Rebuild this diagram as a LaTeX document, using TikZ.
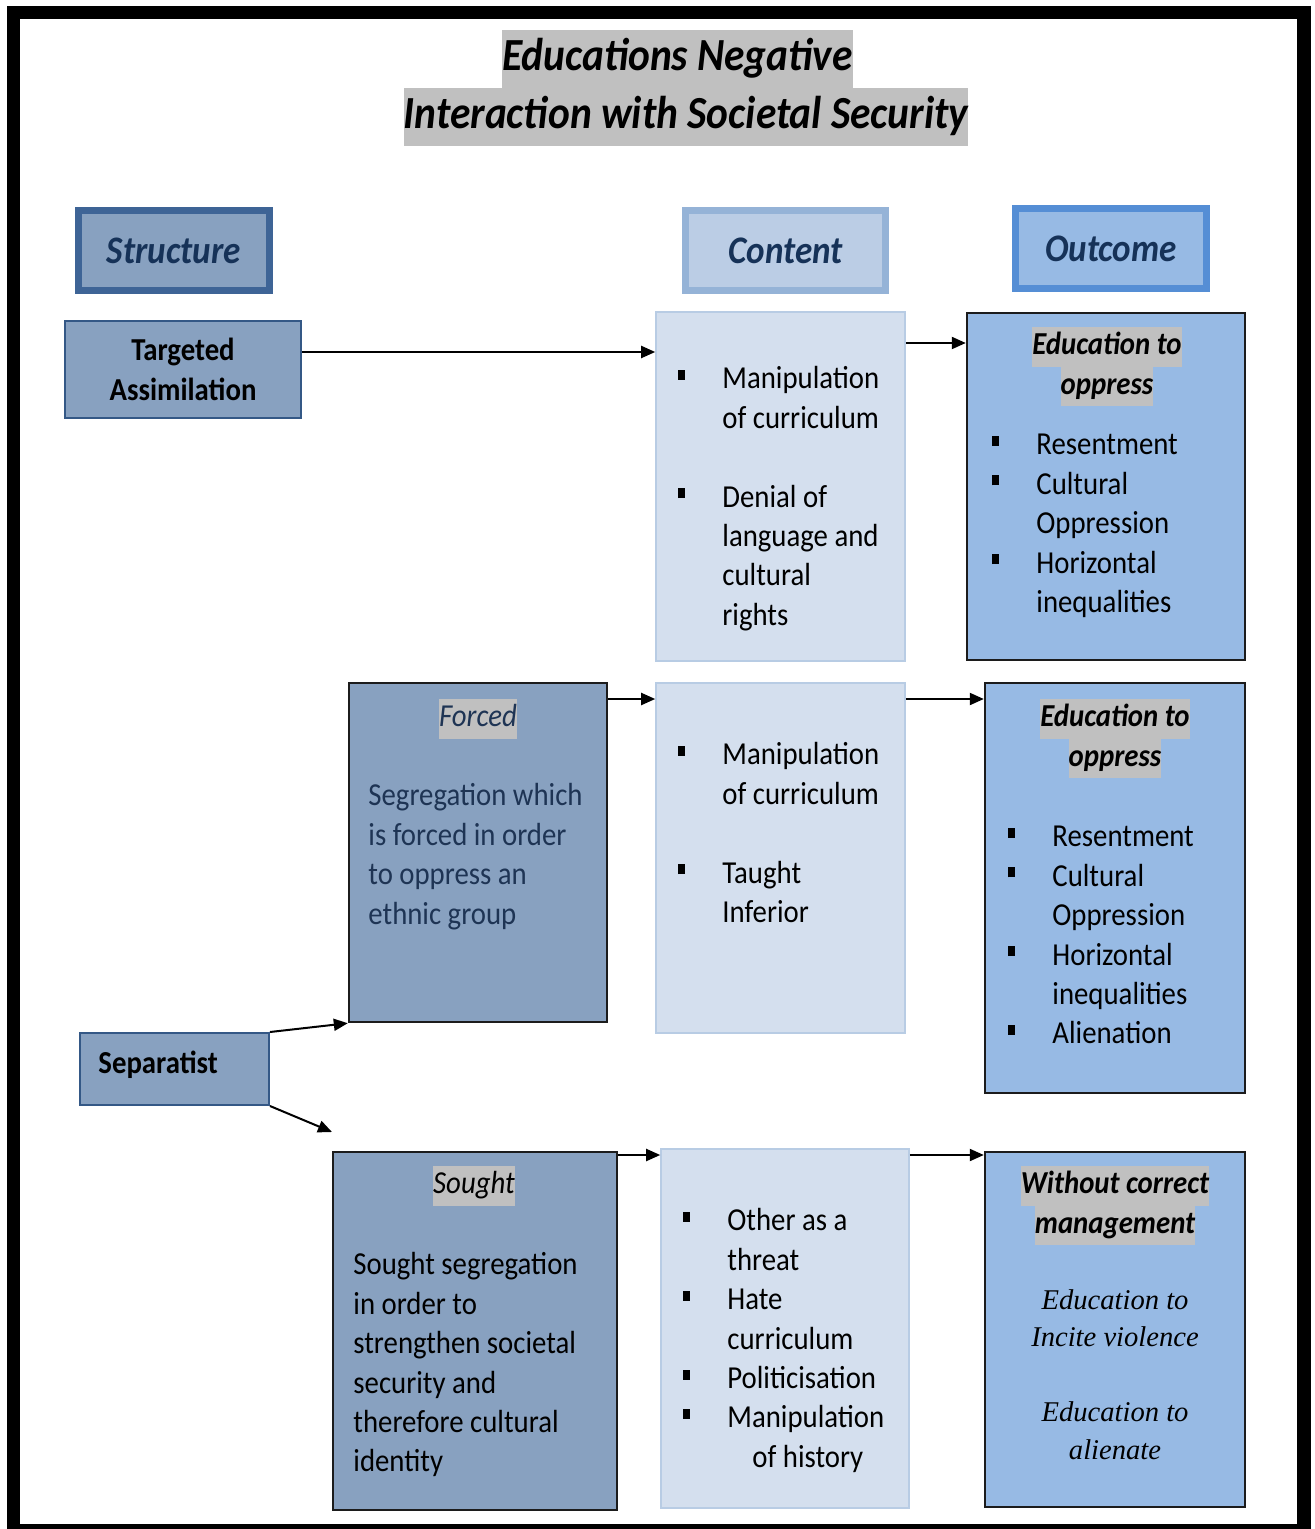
\documentclass[tikz,border=0pt]{standalone}
\usepackage{fontspec}
\setmainfont{Carlito}[FakeStretch=0.9]
\newfontfamily\serifit{Liberation Serif}
\usetikzlibrary{arrows.meta}

% palette
\definecolor{hlgray}{RGB}{192,192,192}
\definecolor{structfill}{RGB}{136,161,192}
\definecolor{structedge}{RGB}{62,100,150}
\definecolor{thinedge}{RGB}{52,88,134}
\definecolor{contfill}{RGB}{212,223,238}
\definecolor{contedge}{RGB}{184,204,228}
\definecolor{contheadfill}{RGB}{187,205,229}
\definecolor{contheadedge}{RGB}{149,179,215}
\definecolor{outfill}{RGB}{151,186,228}
\definecolor{outheadedge}{RGB}{85,142,213}
\definecolor{darkedge}{RGB}{28,28,28}
\definecolor{headtext}{RGB}{22,50,88}
\definecolor{navytext}{RGB}{30,52,84}

% text helpers
\newcommand{\bodyfont}{\fontsize{16pt}{19.7pt}\selectfont}
\newcommand{\hl}[1]{{\fboxsep=0pt\colorbox{hlgray}{\strut#1}}}
\newcommand{\bul}{\makebox[22pt][l]{\rule[4.5pt]{3.5pt}{5pt}}}
\newcommand{\ind}{\hspace*{22pt}}

\begin{document}
\begin{tikzpicture}[x=0.5pt,y=-0.5pt,
  headbox/.style={draw, line width=3.5pt, inner sep=0pt, minimum height=40pt,
    text=headtext, font=\fontsize{19.5pt}{23pt}\selectfont\bfseries\itshape},
  rowbox/.style={draw, line width=1pt, inner sep=0pt},
  cbox/.style={rowbox, fill=contfill, draw=contedge, line width=0.8pt},
  obox/.style={rowbox, fill=outfill, draw=darkedge, line width=1.2pt},
  sbox/.style={rowbox, fill=structfill, draw=darkedge, line width=1.2pt},
  txt/.style={anchor=north west, inner sep=0pt, align=left, font=\bodyfont},
  hlt/.style={anchor=north, inner sep=0pt, align=center, font=\bodyfont\bfseries\itshape},
  ttl/.style={inner sep=0pt, font=\fontsize{23pt}{29pt}\selectfont\bfseries\itshape},
  arr/.style={line width=1pt, -{Triangle[length=7pt,width=6pt]}}
]
\useasboundingbox (0,0) rectangle (1314,1529);

% frame
\fill[black] (7,6) rectangle (1311,1529);
\fill[white] (20,19) rectangle (1297,1524);

% title
\node[ttl] (title1) at (677.5,59) {\hl{Educations Negative}};
\node[ttl] (title2) at (686,117) {\hl{Interaction with Societal Security}};

% column headers
\node[headbox, fill=structfill, draw=structedge, minimum width=95.5pt] (hstruct) at (174,250.5) {Structure};
\node[headbox, fill=contheadfill, draw=contheadedge, minimum width=100pt] (hcont) at (785.5,250.5) {Content};
\node[headbox, fill=outfill, draw=outheadedge, minimum width=95.5pt] (hout) at (1111,248.5) {Outcome};

% row 1: targeted assimilation
\node[rowbox, fill=structfill, draw=thinedge, minimum width=118pt, minimum height=48.5pt,
  align=center, font=\bodyfont\bfseries] (targ) at (183,369.5) {Targeted\\Assimilation};
\node[cbox, minimum width=124.5pt, minimum height=174.5pt] (c1) at (780.5,486.5) {};
\node[txt] (c1t) at (678,361) {\strut\bul Manipulation\\\ind of curriculum\\[19.7pt]\bul Denial of\\\ind language and\\\ind cultural\\\ind rights};
\node[obox, minimum width=139pt, minimum height=173.5pt] (o1) at (1106,486.5) {};
\node[hlt] (o1h) at (1107,327) {\hl{Education to}\\\hl{oppress}};
\node[txt] (o1t) at (992,427) {\strut\bul Resentment\\\bul Cultural\\\ind Oppression\\\bul Horizontal\\\ind inequalities};

% row 2: forced segregation
\node[sbox, minimum width=129pt, minimum height=169.5pt] (forced) at (478,852.5) {};
\node[hlt, font=\bodyfont\itshape, text=navytext] (forcedh) at (478,699) {\hl{Forced}};
\node[txt, text=navytext] (forcedt) at (368,778) {\strut Segregation which\\is forced in order\\to oppress an\\ethnic group};
\node[cbox, minimum width=124.5pt, minimum height=175pt] (c2) at (780.5,858) {};
\node[txt] (c2t) at (678,737) {\strut\bul Manipulation\\\ind of curriculum\\[19.7pt]\bul Taught\\\ind Inferior};
\node[obox, minimum width=130pt, minimum height=205pt] (o2) at (1115,888) {};
\node[hlt] (o2h) at (1115,699) {\hl{Education to}\\\hl{oppress}};
\node[txt] (o2t) at (1008,819) {\strut\bul Resentment\\\bul Cultural\\\ind Oppression\\\bul Horizontal\\\ind inequalities\\\bul Alienation};

% separatist
\node[rowbox, fill=structfill, draw=thinedge, minimum width=94.5pt, minimum height=36pt] (sep) at (174.5,1069) {};
\node[anchor=base west, inner sep=0pt, font=\bodyfont\bfseries] (sept) at (98,1073) {Separatist};

% row 3: sought segregation
\node[sbox, minimum width=142pt, minimum height=179pt] (sought) at (475,1331) {};
\node[hlt, font=\bodyfont\itshape] (soughth) at (474,1166) {\hl{Sought}};
\node[txt] (soughtt) at (353,1247) {\strut Sought segregation\\in order to\\strengthen societal\\security and\\therefore cultural\\identity};
\node[cbox, minimum width=124pt, minimum height=179.5pt] (c3) at (785,1328.5) {};
\node[txt] (c3t) at (683,1203) {\strut\bul Other as a\\\ind threat\\\bul Hate\\\ind curriculum\\\bul Politicisation\\\bul Manipulation\\\hspace*{34.5pt}of history};
\node[obox, minimum width=130pt, minimum height=177.5pt] (o3) at (1115,1329.5) {};
\node[hlt] (o3h) at (1115,1166) {\hl{Without correct}\\\hl{management}};
\node[anchor=north, inner sep=0pt, align=center, font=\serifit\fontsize{14.3pt}{18.7pt}\selectfont\itshape] (o3t) at (1115,1283) {\strut Education to\\Incite violence\\[18.7pt]Education to\\alienate};

% connector levels
\coordinate (lvA) at (0,352);
\coordinate (lvB) at (0,343);
\coordinate (lvC) at (0,699);
\coordinate (lvD) at (0,1155);
\coordinate (soughtTip) at (332,1132);

% connectors
\draw[arr] (targ.east |- lvA) -- (c1.west |- lvA);
\draw[arr] (c1.east |- lvB) -- (o1.west |- lvB);
\draw[arr] (forced.east |- lvC) -- (c2.west |- lvC);
\draw[arr] (c2.east |- lvC) -- (o2.west |- lvC);
\draw[arr] (sought.east |- lvD) -- (c3.west |- lvD);
\draw[arr] (c3.east |- lvD) -- (o3.west |- lvD);
\draw[arr] (sep.north east) -- (forced.south west);
\draw[arr] (sep.south east) -- (soughtTip);
\end{tikzpicture}
\end{document}
